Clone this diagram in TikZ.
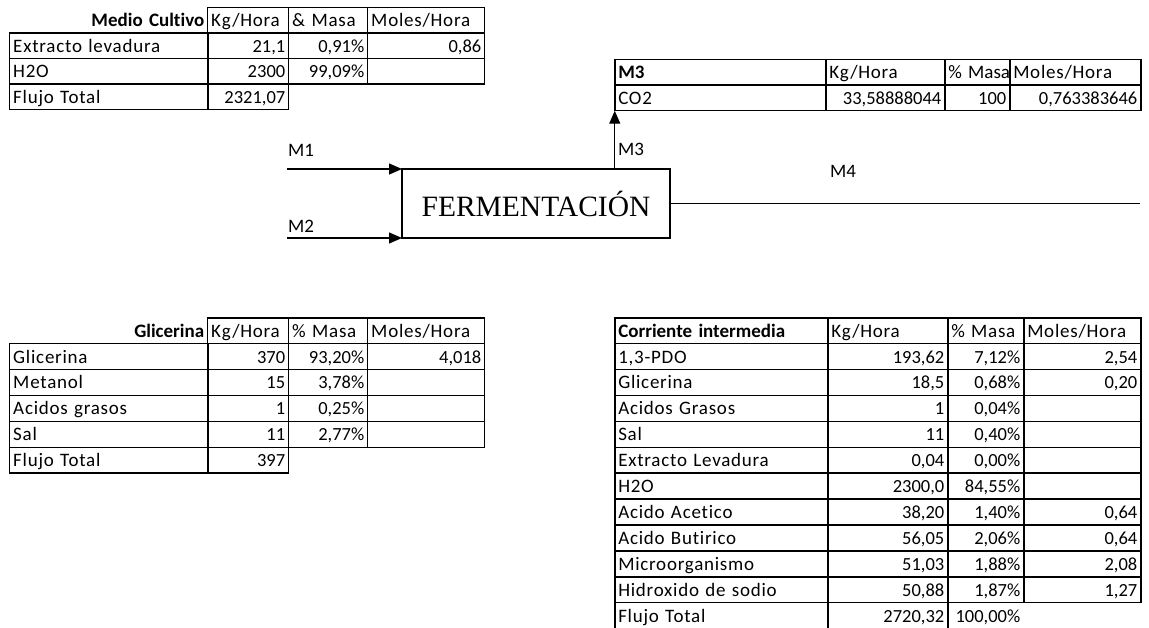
\documentclass[tikz,border=0pt]{standalone}
\usepackage{fontspec}
\usetikzlibrary{matrix,arrows.meta}
\newfontfamily\calibri[Ligatures=NoCommon]{Carlito}
\newfontfamily\calibriesp[LetterSpace=4,Ligatures=NoCommon]{Carlito}
\newfontfamily\romana{Liberation Serif}
\tikzset{
  diagrama/.style={x=1pt,y=-1pt}
  ,palabra/.style={font=\calibriesp\fontsize{19}{21}\selectfont}
  ,celda/.style={draw,line width=1.5pt
    ,inner xsep=3.5pt,inner ysep=0pt,outer sep=0pt
    ,text height=19pt,text depth=6.5pt
    ,align=right
    ,font=\calibri\fontsize{18.5}{20}\selectfont}
  ,tabla/.style={matrix of nodes
    ,anchor=north west
    ,inner sep=0pt,outer sep=0pt
    ,column sep=-1.5pt,row sep=-1.5pt
    ,nodes={celda}
    ,row 1/.style={nodes={align=left,palabra}}}
  ,anchos/.style n args={4}{
    column 1/.style={nodes={text width=#1,align=left,palabra}}
    ,column 2/.style={nodes={text width=#2}}
    ,column 3/.style={nodes={text width=#3}}
    ,column 4/.style={nodes={text width=#4}}}
  ,titulo/.style={draw=none,align=right
    ,font=\calibri\bfseries\fontsize{19}{21}\selectfont}
  ,negrita/.style={font=\calibri\bfseries\fontsize{19}{21}\selectfont}
  ,estrecho/.style={font=\calibri\fontsize{19}{21}\selectfont}
  ,proceso/.style={draw,line width=1.2pt
    ,minimum width=268pt,minimum height=69pt
    ,inner sep=0pt,outer sep=0pt
    ,font=\romana\fontsize{29.5}{31}\selectfont}
  ,corriente/.style={line width=1.2pt}
  ,flecha/.style={corriente,-{Triangle[length=13pt,width=11pt]}}
  ,etiqueta/.style={anchor=base west,inner sep=0pt
    ,font=\calibri\fontsize{19}{21}\selectfont}
}
\begin{document}
\begin{tikzpicture}[diagrama]
  \useasboundingbox (0,0) rectangle (1149,628);

  % medio de cultivo
  \matrix[tabla,anchos={191pt}{74pt}{72pt}{110pt}] (medio) at (9,7) {
    |[titulo]|Medio Cultivo & Kg/Hora & \&~Masa & Moles/Hora \\
    Extracto levadura & 21,1 & 0,91\% & 0,86 \\
    H2O & 2300 & 99,09\% & ~ \\
    Flujo Total & 2321,07 \\
  };

  % glicerina
  \matrix[tabla,anchos={191pt}{74pt}{72pt}{110pt},nodes={text height=19.4pt}] (glicerina) at (9,317) {
    |[titulo]|Glicerina & Kg/Hora & \%~Masa & Moles/Hora \\
    Glicerina & 370 & 93,20\% & 4,018 \\
    Metanol & 15 & 3,78\% & ~ \\
    Acidos grasos & 1 & 0,25\% & ~ \\
    Sal & 11 & 2,77\% & ~ \\
    Flujo Total & 397 \\
  };

  % corriente M3
  \matrix[tabla,anchos={204pt}{112pt}{58pt}{124pt}] (m3) at (614,59) {
    |[negrita]|M3 & Kg/Hora & |[estrecho]|\%~Masa & Moles/Hora \\
    CO2 & 33,58888044 & 100 & 0,763383646 \\
  };

  % corriente intermedia M4
  \matrix[tabla,anchos={206pt}{113pt}{69pt}{110pt},nodes={text height=19.4pt}] (intermedia) at (614,317) {
    |[negrita]|Corriente intermedia & Kg/Hora & \%~Masa & Moles/Hora \\
    1,3-PDO & 193,62 & 7,12\% & 2,54 \\
    Glicerina & 18,5 & 0,68\% & 0,20 \\
    Acidos Grasos & 1 & 0,04\% & ~ \\
    Sal & 11 & 0,40\% & ~ \\
    Extracto Levadura & 0,04 & 0,00\% & ~ \\
    H2O & 2300,0 & 84,55\% & ~ \\
    Acido Acetico & 38,20 & 1,40\% & 0,64 \\
    Acido Butirico & 56,05 & 2,06\% & 0,64 \\
    Microorganismo & 51,03 & 1,88\% & 2,08 \\
    Hidroxido de sodio & 50,88 & 1,87\% & 1,27 \\
    Flujo Total & 2720,32 & |[draw=none]|100,00\% \\
  };

  % fermentador
  \node[proceso] (fermentacion) at (536,203.5) {FERMENTACIÓN};

  % corrientes
  \coordinate (m1ini) at ([xshift=-115pt]fermentacion.north west);
  \coordinate (m2ini) at ([xshift=-115pt]fermentacion.south west);
  \coordinate (m4fin) at (1140,203.5);
  \draw[flecha] (m1ini) -- (fermentacion.north west);
  \draw[flecha] (m2ini) -- (fermentacion.south west);
  \draw[flecha] (fermentacion.north -| m3-2-1.south west) -- (m3-2-1.south west);
  \draw[corriente] (fermentacion.east) -- (m4fin);

  \node[etiqueta] (m1) at (288,157) {M1};
  \node[etiqueta] (m2) at (288,233) {M2};
  \node[etiqueta] (m3lbl) at (618,156) {M3};
  \node[etiqueta] (m4) at (830,178) {M4};
\end{tikzpicture}
\end{document}
